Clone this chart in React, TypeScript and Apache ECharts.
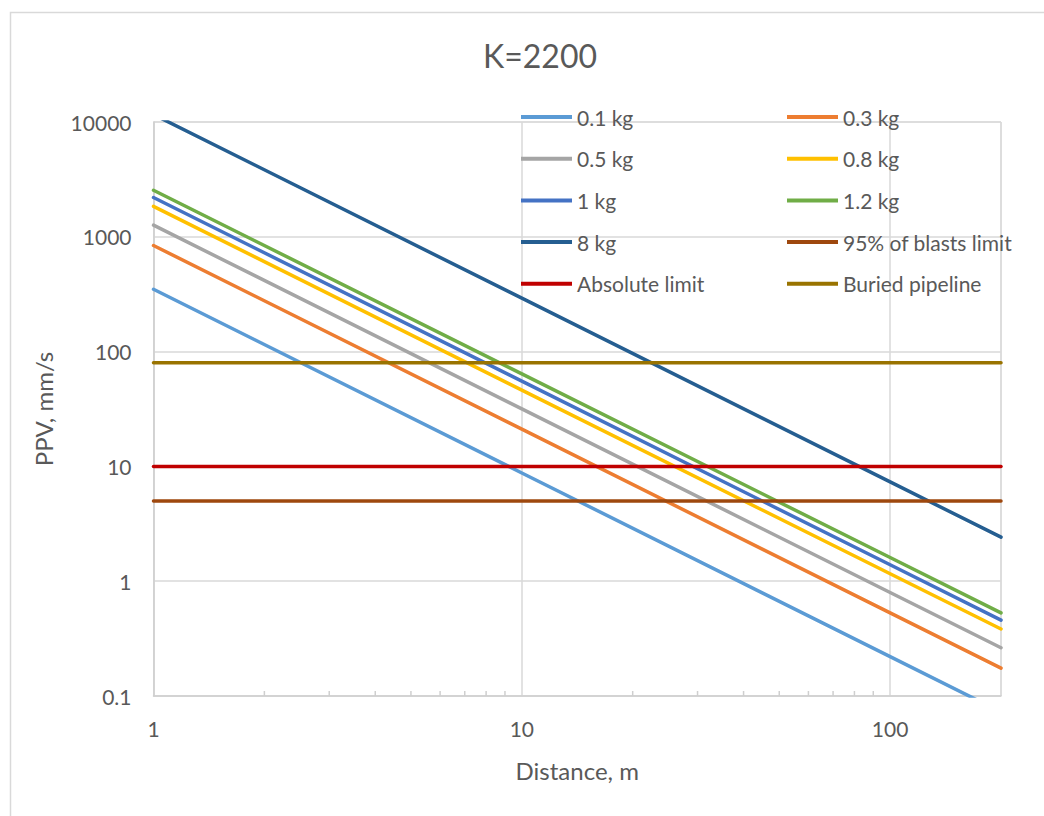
import React, { useEffect, useRef } from "react";
import * as echarts from "echarts";

const distance = [1, 10, 100, 200];
const ppv01 = [349, 8.77, 0.22, 0.0727];
const ppv03 = [840, 21.1, 0.53, 0.175];
const ppv05 = [1263, 31.7, 0.797, 0.263];
const ppv08 = [1840, 46.2, 1.16, 0.383];
const ppv1 = [2200, 55.3, 1.39, 0.458];
const ppv12 = [2545, 63.9, 1.61, 0.53];
const ppv8 = [11612, 292, 7.33, 2.42];
const limitDistance = [1, 200];
const limit95 = [5, 5];
const limitAbsolute = [10, 10];
const limitPipeline = [80, 80];
const minorTickX = [2, 3, 4, 5, 6, 7, 8, 9, 20, 30, 40, 50, 60, 70, 80, 90];

const seriesDefs = [
  { name: "0.1 kg", x: distance, y: ppv01, color: "#5B9BD5" },
  { name: "0.3 kg", x: distance, y: ppv03, color: "#ED7D31" },
  { name: "0.5 kg", x: distance, y: ppv05, color: "#A5A5A5" },
  { name: "0.8 kg", x: distance, y: ppv08, color: "#FFC000" },
  { name: "1 kg", x: distance, y: ppv1, color: "#4472C4" },
  { name: "1.2 kg", x: distance, y: ppv12, color: "#70AD47" },
  { name: "8 kg", x: distance, y: ppv8, color: "#255E91" },
  { name: "95% of blasts limit", x: limitDistance, y: limit95, color: "#9E480E" },
  { name: "Absolute limit", x: limitDistance, y: limitAbsolute, color: "#C00000" },
  { name: "Buried pipeline", x: limitDistance, y: limitPipeline, color: "#997300" },
];

const legendLeft = ["0.1 kg", "0.5 kg", "1 kg", "8 kg", "Absolute limit"];
const legendRight = ["0.3 kg", "0.8 kg", "1.2 kg", "95% of blasts limit", "Buried pipeline"];

const FONT = "Lato, 'Noto Sans', sans-serif";
const TEXT = "#595959";

export default function App() {
  const ref = useRef<HTMLDivElement>(null);
  useEffect(() => {
    if (!ref.current) return;
    const chart = echarts.init(ref.current, undefined, { renderer: "svg" });
    const legendCommon = {
      orient: "vertical" as const,
      top: 105,
      padding: 0,
      itemWidth: 51,
      itemHeight: 4,
      icon: "rect",
      itemGap: 17.7,
      textStyle: { color: TEXT, fontSize: 21, fontFamily: FONT, lineHeight: 24 },
      selectedMode: false,
    };
    chart.setOption({
      animation: false,
      backgroundColor: "#ffffff",
      title: {
        text: "K=2200",
        left: 535,
        textAlign: "center",
        top: 34,
        textStyle: { color: TEXT, fontSize: 32, fontFamily: FONT, fontWeight: "normal" },
      },
      graphic: [
        {
          type: "rect",
          shape: { x: 10.5, y: 12.5, width: 1200, height: 1000 },
          style: { fill: "none", stroke: "#d9d9d9", lineWidth: 1.5 },
          silent: true,
          z: -10,
        },
      ],
      legend: [
        { ...legendCommon, left: 521, data: legendLeft },
        { ...legendCommon, left: 787, data: legendRight },
      ],
      grid: {
        left: 153.5,
        right: 43,
        top: 122,
        bottom: 120,
        show: true,
        borderColor: "#d9d9d9",
        borderWidth: 1,
      },
      xAxis: {
        type: "log",
        logBase: 10,
        min: 1,
        max: 200,
        name: "Distance, m",
        nameLocation: "middle",
        nameGap: 62,
        nameTextStyle: { color: TEXT, fontSize: 24, fontFamily: FONT },
        axisLine: { show: true, lineStyle: { color: "#cfcfcf", width: 1.5 } },
        axisTick: { show: false },
        axisLabel: {
          color: TEXT,
          fontSize: 21,
          fontFamily: FONT,
          margin: 22,
          showMaxLabel: false,
        },
        splitLine: { show: true, lineStyle: { color: "#d9d9d9", width: 1.5 } },
        minorTick: { show: false },
      },
      yAxis: {
        type: "log",
        logBase: 10,
        min: 0.1,
        max: 10000,
        name: "PPV, mm/s",
        nameLocation: "middle",
        nameGap: 98,
        nameRotate: 90,
        nameTextStyle: { color: TEXT, fontSize: 24, fontFamily: FONT },
        axisLine: { show: true, lineStyle: { color: "#cfcfcf", width: 1.5 } },
        axisTick: { show: false },
        axisLabel: {
          color: TEXT,
          fontSize: 21,
          fontFamily: FONT,
          margin: 22,
          formatter: (v: number) => String(Number(v.toPrecision(6))),
        },
        splitLine: { show: true, lineStyle: { color: "#d9d9d9", width: 1.5 } },
      },
      series: [
        ...seriesDefs.map((s) => ({
          name: s.name,
          type: "line",
          data: s.x.map((x, i) => [x, s.y[i]]),
          symbol: "none",
          clip: true,
          color: s.color,
          lineStyle: { color: s.color, width: 3.5, cap: "round" },
          itemStyle: { color: s.color },
        })),
        {
          name: "minorTicks",
          type: "custom",
          silent: true,
          clip: false,
          data: minorTickX.map((x) => [x, 0.1]),
          renderItem: (_params: any, api: any) => {
            const p = api.coord([api.value(0), api.value(1)]);
            return {
              type: "line",
              shape: { x1: p[0], y1: p[1], x2: p[0], y2: p[1] - 5 },
              style: { stroke: "#cfcfcf", lineWidth: 1.5 },
            };
          },
        },
      ],
    });
    return () => chart.dispose();
  }, []);
  return (
    <div
      ref={ref}
      style={{ position: "fixed", left: 0, top: 0, width: 1044, height: 816 }}
    />
  );
}
